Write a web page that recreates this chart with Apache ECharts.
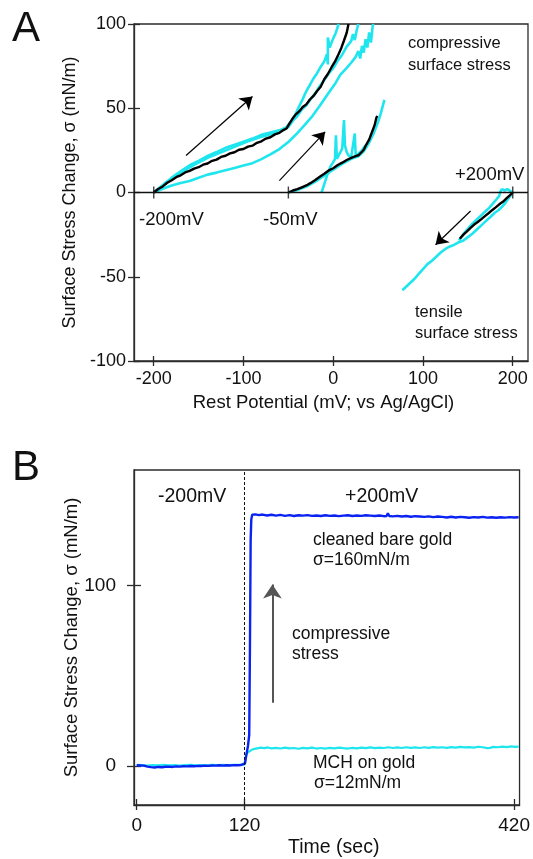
<!DOCTYPE html>
<html>
<head>
<meta charset="UTF-8">
<title>surface stress</title>
<style type="text/css">
    html, body { margin: 0; padding: 0; background: #fff; }
    #chart { width: 533px; height: 859px; }
</style>
<script type="text/javascript" src="https://cdn.jsdelivr.net/npm/echarts@6/dist/echarts.min.js"></script>
</head>
<body>
<div id="chart"></div>
<script type="text/javascript">
// ---- panel A : [rest potential mV, surface stress mN/m] ----
var blackFrom200 = [[-200,0],[-195,2.1],[-190,3.6],[-185,5.8],[-180,7.3],[-175,9.1],[-170,10.2],[-165,11.9],[-160,12.8],[-155,14.2],[-150,15.0],[-145,16.5],[-140,17.2],[-135,18.8],[-130,19.5],[-125,21.1],[-120,21.8],[-115,23.2],[-110,23.9],[-105,25.4],[-100,25.8],[-95,27.2],[-90,27.8],[-85,29.5],[-80,30.4],[-75,32.0],[-70,32.8],[-65,34.5],[-60,35.4],[-55,37.2],[-52,38.0],[-49,40.7],[-46,43.3],[-42,46.2],[-38,48.1],[-34,50.7],[-30,52.3],[-26,55.2],[-22,57.3],[-18,60.2],[-14,62.8],[-10,67.2],[-6,70.3],[-2,74.2],[2,77.8],[6,82.2],[9,85.8],[12,90.2],[15,94.8],[17,100]];
var cyanFrom200a = [[-200,0],[-190,4.5],[-180,8.8],[-170,12.5],[-160,16.2],[-150,18.8],[-140,21.7],[-130,24.0],[-120,26.5],[-110,28.3],[-100,30.2],[-90,32.0],[-80,34.2],[-70,35.6],[-60,36.9],[-52,38.8],[-47,42.2],[-42,46.5],[-38,51.2],[-34,55.4],[-30,60.2],[-26,63.8],[-22,67.7],[-18,70.8],[-14,74.6],[-10,77.8],[-7,82.0],[-6,76.0],[-6,92.0],[-4,86.0],[-1,90.2],[3,95.0],[6,100]];
var cyanFrom200b = [[-200,0],[-185,6.0],[-170,11.6],[-155,16.4],[-140,20.6],[-125,23.8],[-110,27.1],[-95,30.4],[-80,33.1],[-70,34.4],[-60,36.1],[-50,38.8],[-45,42.6],[-40,45.4],[-35,49.2],[-30,51.8],[-25,55.6],[-20,58.8],[-15,63.2],[-10,66.8],[-5,70.6],[0,73.8],[5,78.2],[10,81.8],[15,86.6],[20,89.8],[22,94.0],[24,90.5],[26,96.0],[28,100]];
var cyanFrom200c = [[-200,0],[-190,2.2],[-180,4.2],[-170,5.6],[-160,6.8],[-150,8.8],[-140,10.6],[-130,11.8],[-120,13.2],[-110,14.6],[-100,16.0],[-90,17.4],[-80,19.8],[-70,22.6],[-60,25.8],[-50,30.0],[-40,35.2],[-32,40.0],[-23,45.5],[-15,51.5],[-6,58.5],[2,64.5],[8,70.0],[15,74.0],[20,77.0],[25,80.5],[28,84.0],[30,79.5],[32,87.0],[34,83.0],[36,91.0],[38,86.0],[40,95.0],[42,89.0],[44,99.0],[45,100]];

var blackFrom50 = [[-50,0],[-45,1.2],[-40,2.0],[-35,3.1],[-30,4.2],[-25,5.7],[-20,7.4],[-15,9.3],[-10,11.1],[-5,13.1],[0,14.4],[5,16.3],[10,17.7],[15,19.3],[20,20.5],[25,21.6],[28,22.1],[31,23.6],[34,25.4],[37,28.6],[40,31.4],[43,35.6],[46,39.8],[48,44.2],[49,45.5]];
var cyanFrom50a = [[-50,0],[-40,1.5],[-30,3.5],[-20,6.5],[-10,10.0],[0,13.5],[10,17.0],[20,20.0],[28,21.5],[34,24.5],[40,29.5],[45,35.0],[50,42.0],[53,47.0],[55,51.0],[57,55.0]];
var cyanFrom50b = [[-13,0],[-10,5],[-6,11.5],[-3,15.5],[0,18],[2,20],[3,34],[4,20],[6,22],[8,24],[10,26],[12,43],[13,28],[15,24],[17,22],[20,21],[24,35],[25,22],[28,23],[32,25],[36,28]];

var blackFromPlus200 = [[200,0],[197,-1.5],[193,-3.5],[189,-5.5],[185,-7.0],[181,-8.8],[177,-10.5],[173,-12.3],[169,-14.0],[165,-15.8],[161,-17.5],[157,-19.0],[153,-21.0],[149,-23.0],[145,-25.0],[141,-27.5]];
var cyanFromPlus200a = [[200,0],[196,-3.0],[192,-6.0],[188,-8.5],[184,-10.5],[180,-12.0],[175,-14.5],[170,-17.0],[165,-19.5],[160,-22.0],[155,-24.5],[150,-26.5],[145,-28.5],[140,-29.5],[135,-31.0],[130,-32.0],[125,-33.5],[120,-35.5],[115,-38.0],[110,-40.5],[108,-39.5],[105,-42.5],[100,-45.5],[95,-48.5],[90,-51.5],[85,-54.0],[80,-56.5],[77,-58.0]];
var cyanFromPlus200b = [[200,0],[197,1.0],[194,2.0],[191,1.2],[188,2.0],[186,0.5],[185,-2.0],[182,-4.0],[178,-6.5],[174,-9.0],[170,-11.0],[166,-13.0],[162,-15.0],[158,-17.0],[154,-19.0],[150,-21.5],[146,-24.0],[142,-27.0],[140,-28.5]];

var stepMarks = [-200, -50, 200];
var xTicksA = [-200, -100, 0, 100, 200];

// arrows in panel A: [start, end] in data units
var arrowUp200 = [[-164, 22], [-90, 57]];
var arrowUp50 = [[-60, 7], [-9, 36]];
var arrowDown200 = [[153, -11], [114, -31]];

// ---- panel B : [time s, surface stress mN/m] ----
var bareGold = [[0,0.3],[4,0.2],[8,0.1],[12,-0.4],[16,-0.7],[20,-0.9],[24,-0.6],[28,-0.8],[32,-0.5],[36,-0.4],[40,-0.6],[44,-0.3],[48,-0.4],[52,-0.2],[56,-0.3],[60,-0.1],[64,-0.2],[68,0],[72,-0.1],[76,0.1],[80,0],[84,0.2],[88,0.1],[92,0.3],[96,0.1],[100,0.3],[104,0.2],[108,0.4],[112,0.3],[116,0.5],[120.4,1.2],[122,6],[123.8,11],[125.2,17],[126,65],[126.8,125],[127.5,136.5],[128.5,139.2],[132,139.4],[136,139.0],[140,139.3],[145,138.8],[150,139.2],[155,138.7],[160,139.1],[165,138.6],[170,139.0],[175,138.5],[180,138.9],[185,138.7],[190,139.0],[195,138.6],[200,138.8],[205,138.5],[210,138.9],[215,138.6],[220,138.8],[225,138.4],[230,138.7],[235,138.9],[240,138.5],[245,138.8],[250,138.6],[255,138.9],[260,138.7],[265,138.5],[270,138.8],[275,138.4],[278,138.5],[279.5,140.0],[281,138.5],[285,138.3],[290,138.6],[295,138.2],[300,138.5],[305,138.1],[310,138.4],[315,138.2],[320,138.0],[325,138.3],[330,137.9],[335,138.2],[340,138.0],[345,137.7],[350,138.1],[355,137.7],[360,138.0],[365,137.8],[370,137.5],[375,137.9],[380,137.7],[385,138.0],[390,137.6],[395,137.8],[400,137.5],[405,137.8],[410,137.6],[415,137.9],[420,137.7],[425,137.8]];
var mchGold = [[0,0.5],[6,0.4],[12,0.2],[18,0.4],[24,0.3],[30,0.5],[36,0.3],[42,0.4],[48,0.2],[54,0.4],[60,0.5],[66,0.3],[72,0.4],[78,0.3],[84,0.5],[90,0.4],[96,0.5],[102,0.4],[108,0.6],[114,0.5],[119.5,0.7],[120.5,2.5],[121.5,5.5],[123,7.2],[125,8.2],[128,8.9],[131,9.4],[134,9.7],[138,10.1],[142,9.8],[146,10.2],[150,9.7],[155,10.0],[160,9.6],[165,10.1],[170,9.7],[175,9.9],[180,9.5],[185,10.0],[190,9.7],[195,10.1],[200,9.6],[205,9.9],[210,9.6],[215,10.0],[220,9.7],[225,10.1],[230,9.8],[235,9.6],[240,10.0],[245,9.7],[250,10.1],[255,9.8],[260,10.2],[265,9.8],[270,10.1],[275,9.9],[280,10.3],[285,9.9],[290,10.2],[295,9.9],[300,10.3],[305,10.0],[310,10.2],[315,9.9],[320,10.3],[325,10.0],[330,10.4],[335,10.1],[340,10.3],[345,10.0],[350,10.4],[355,10.1],[360,10.5],[365,10.2],[370,10.4],[375,10.1],[380,10.6],[385,10.3],[390,9.8],[393,10.0],[397,10.5],[402,10.3],[407,10.7],[412,10.4],[417,10.8],[421,10.5],[425,10.7]];
var switchTime = 120;
var xTicksB = [0, 120, 420];
var yTicksB = [0, 100];
var arrowB = [[151, 35], [151, 100.5]];

var FONT = '"Liberation Sans", Arial, Helvetica, sans-serif';
var AXIS_COLOR = '#2b2b2b';
var CYAN = '#1fe6ee';

var chart = echarts.init(document.getElementById('chart'), null, {renderer: 'canvas'});

function traceSeries(data, color, width, x, y) {
    return {
        type: 'line', data: data, xAxisIndex: x, yAxisIndex: y,
        showSymbol: false, symbol: 'none', animation: false, silent: true,
        lineStyle: {color: color, width: width}, z: color === CYAN ? 2 : 3
    };
}

function arrowLine(pts, curve, color, width, size) {
    return {
        symbol: ['none', 'arrow'], symbolSize: size, silent: true,
        label: {show: false},
        lineStyle: {color: color, width: width, type: 'solid', curveness: curve},
        data: [[{coord: pts[0]}, {coord: pts[1]}]]
    };
}

function txt(s, x, y, size, align) {
    return {
        type: 'text', x: x, y: y, silent: true,
        style: {text: s, fill: '#111', fontSize: size, fontFamily: FONT,
                align: align || 'left', verticalAlign: 'middle'}
    };
}

var tickStyle = {color: AXIS_COLOR, width: 1.3};

// each axis is drawn twice so that the ticks cross the frame
var xAxes = [
    {gridIndex: 0, type: 'value', min: -222, max: 217, position: 'bottom',
        axisLine: {onZero: false, lineStyle: tickStyle},
        axisTick: {customValues: xTicksA, length: 5, lineStyle: tickStyle},
        axisLabel: {customValues: xTicksA, margin: 9, fontSize: 18, color: '#111', fontFamily: FONT},
        splitLine: {show: false},
        name: 'Rest Potential (mV; vs Ag/AgCl)', nameLocation: 'middle', nameGap: 32, nameMoveOverlap: false,
        nameTextStyle: {fontSize: 18.5, color: '#111', fontFamily: FONT, padding: [0, 15, 0, 0]}},
    {gridIndex: 0, type: 'value', min: -222, max: 217, position: 'bottom',
        axisLine: {show: false, onZero: false}, axisLabel: {show: false}, splitLine: {show: false},
        axisTick: {customValues: xTicksA, inside: true, length: 5, lineStyle: tickStyle}},
    {gridIndex: 1, type: 'value', min: -3, max: 426, position: 'bottom',
        axisLine: {onZero: false, lineStyle: tickStyle},
        axisTick: {customValues: xTicksB, length: 5, lineStyle: tickStyle},
        axisLabel: {customValues: xTicksB, margin: 11, fontSize: 19, color: '#111', fontFamily: FONT},
        splitLine: {show: false},
        name: 'Time (sec)', nameLocation: 'middle', nameGap: 33, nameMoveOverlap: false,
        nameTextStyle: {fontSize: 19.5, color: '#111', fontFamily: FONT, padding: [0, 0, 0, 14]}},
    {gridIndex: 1, type: 'value', min: -3, max: 426, position: 'bottom',
        axisLine: {show: false, onZero: false}, axisLabel: {show: false}, splitLine: {show: false},
        axisTick: {customValues: xTicksB, inside: true, length: 6, lineStyle: tickStyle}}
];

var yAxes = [
    {gridIndex: 0, type: 'value', min: -100, max: 100, interval: 50, position: 'left',
        axisLine: {onZero: false, lineStyle: tickStyle},
        axisTick: {length: 6, lineStyle: tickStyle},
        axisLabel: {margin: 8, fontSize: 18, color: '#111', fontFamily: FONT},
        splitLine: {show: false},
        name: 'Surface Stress Change, σ (mN/m)', nameLocation: 'middle', nameGap: 55, nameMoveOverlap: false,
        nameTextStyle: {fontSize: 18, color: '#111', fontFamily: FONT}},
    {gridIndex: 0, type: 'value', min: -100, max: 100, interval: 50, position: 'left',
        axisLine: {show: false, onZero: false}, axisLabel: {show: false}, splitLine: {show: false},
        axisTick: {inside: true, length: 6, lineStyle: tickStyle}},
    {gridIndex: 1, type: 'value', min: -21.7, max: 164, position: 'left',
        axisLine: {onZero: false, lineStyle: tickStyle},
        axisTick: {customValues: yTicksB, length: 7, lineStyle: tickStyle},
        axisLabel: {customValues: yTicksB, margin: 18, fontSize: 19, color: '#111', fontFamily: FONT},
        splitLine: {show: false},
        name: 'Surface Stress Change, σ (mN/m)', nameLocation: 'middle', nameGap: 53, nameMoveOverlap: false,
        nameTextStyle: {fontSize: 18.5, color: '#111', fontFamily: FONT}},
    {gridIndex: 1, type: 'value', min: -21.7, max: 164, position: 'left',
        axisLine: {show: false, onZero: false}, axisLabel: {show: false}, splitLine: {show: false},
        axisTick: {customValues: yTicksB, inside: true, length: 7, lineStyle: tickStyle}}
];

var series = [
    traceSeries(cyanFrom200a, CYAN, 2.6, 0, 0),
    traceSeries(cyanFrom200b, CYAN, 2.6, 0, 0),
    traceSeries(cyanFrom200c, CYAN, 2.6, 0, 0),
    traceSeries(cyanFrom50a, CYAN, 2.6, 0, 0),
    traceSeries(cyanFrom50b, CYAN, 2.6, 0, 0),
    traceSeries(cyanFromPlus200a, CYAN, 2.6, 0, 0),
    traceSeries(cyanFromPlus200b, CYAN, 2.6, 0, 0),
    traceSeries(blackFrom200, '#000', 2.4, 0, 0),
    traceSeries(blackFrom50, '#000', 2.4, 0, 0),
    traceSeries(blackFromPlus200, '#000', 2.4, 0, 0),
    {
        // zero line with the start marks of each run
        type: 'scatter', xAxisIndex: 0, yAxisIndex: 0, silent: true, animation: false,
        data: stepMarks.map(function (v) { return [v, 0]; }),
        symbol: 'rect', symbolSize: [1.4, 12], itemStyle: {color: '#111'}, z: 4,
        markLine: {
            symbol: 'none', silent: true, label: {show: false}, animation: false,
            lineStyle: {color: '#111', width: 1.3, type: 'solid'},
            data: [{yAxis: 0}]
        }
    },
    {
        type: 'line', xAxisIndex: 0, yAxisIndex: 0, data: [], animation: false,
        markLine: arrowLine(arrowUp200, -0.2, '#000', 1.2, 12)
    },
    {
        type: 'line', xAxisIndex: 0, yAxisIndex: 0, data: [], animation: false,
        markLine: arrowLine(arrowUp50, -0.2, '#000', 1.2, 12)
    },
    {
        type: 'line', xAxisIndex: 0, yAxisIndex: 0, data: [], animation: false,
        markLine: arrowLine(arrowDown200, 0, '#000', 1.2, 12)
    },
    traceSeries(mchGold, CYAN, 2.2, 2, 2),
    traceSeries(bareGold, '#0a22f2', 2.4, 2, 2),
    {
        type: 'line', xAxisIndex: 2, yAxisIndex: 2, data: [], animation: false,
        markLine: {
            symbol: 'none', silent: true, label: {show: false}, animation: false,
            lineStyle: {color: '#111', width: 1, type: [3, 2]},
            data: [{xAxis: switchTime}]
        }
    },
    {
        type: 'line', xAxisIndex: 2, yAxisIndex: 2, data: [], animation: false,
        markLine: arrowLine(arrowB, 0, '#555', 2, 14)
    }
];

chart.setOption({
    animation: false,
    grid: [
        {left: 134, top: 24, width: 394, height: 337, show: true, borderColor: AXIS_COLOR, borderWidth: 1.3},
        {left: 134, top: 470, width: 394, height: 337, show: true, borderColor: AXIS_COLOR, borderWidth: 1.3}
    ],
    xAxis: xAxes,
    yAxis: yAxes,
    series: series,
    graphic: [
        txt('A', 12, 29, 42),
        txt('compressive', 408, 43, 16.5),
        txt('surface stress', 408, 65, 16.5),
        txt('tensile', 415, 312, 16.5),
        txt('surface stress', 415, 333, 16.5),
        txt('+200mV', 455, 175, 18.5),
        txt('-200mV', 139, 220, 18.5),
        txt('-50mV', 263, 220, 18.5),
        txt('B', 12, 468, 42),
        txt('-200mV', 158, 497, 19.5),
        txt('+200mV', 345, 497, 19.5),
        txt('cleaned bare gold', 313, 540, 17.5),
        txt('σ=160mN/m', 313, 560, 17.5),
        txt('compressive', 292, 634, 17.5),
        txt('stress', 292, 654, 17.5),
        txt('MCH on gold', 313, 763, 17.5),
        txt('σ=12mN/m', 314, 783, 17.5)
    ]
});
</script>
</body>
</html>
